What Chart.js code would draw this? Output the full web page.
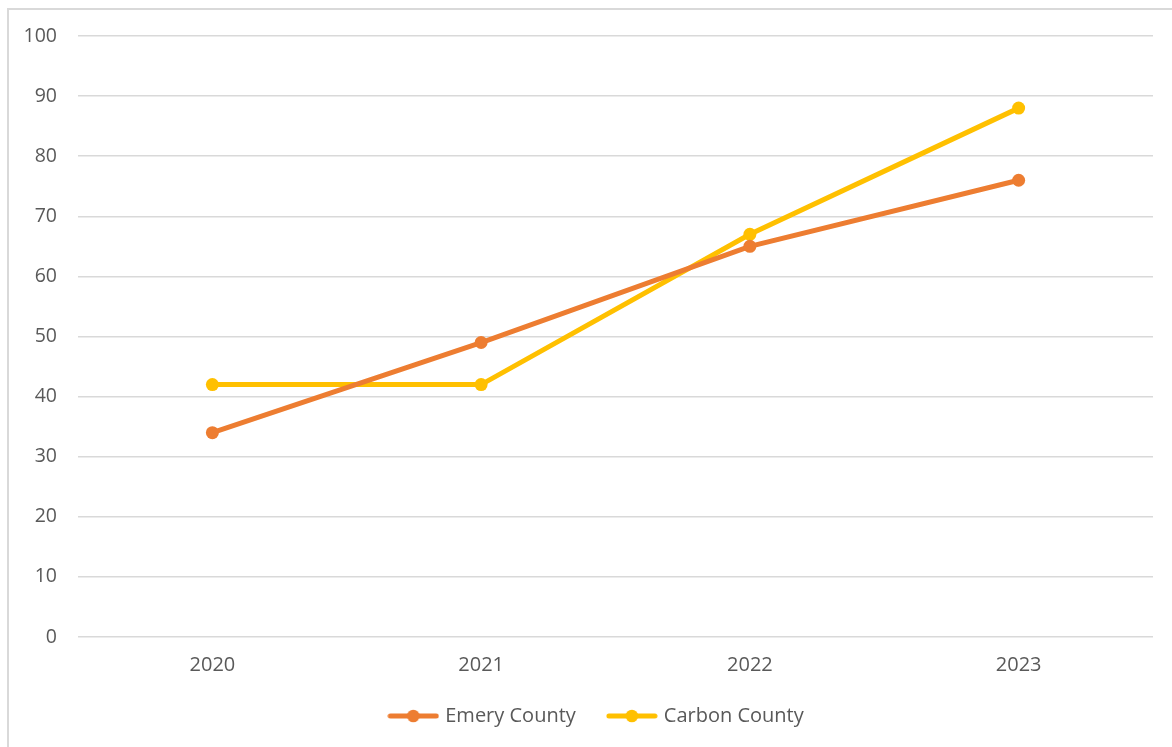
<!DOCTYPE html>
<html>
<head>
<meta charset="utf-8">
<script src="https://cdn.jsdelivr.net/npm/chart.js@4"></script>
<style>
  html, body { margin: 0; padding: 0; background: #ffffff; overflow: hidden; }
  #frame { position: absolute; left: 7px; top: 8px; width: 1300px; height: 900px;
           border-left: 2px solid #d9d9d9; border-top: 2px solid #d9d9d9; }
  #wrap { position: absolute; left: 0; top: 0; width: 1172px; height: 747px; }
</style>
</head>
<body>
<div id="frame"></div>
<div id="wrap"><canvas id="c" width="1172" height="747"></canvas></div>
<script>
const years = ['2020', '2021', '2022', '2023'];
const emeryCounty = [34, 49, 65, 76];
const carbonCounty = [42, 42, 67, 88];
const seriesNames = ['Emery County', 'Carbon County'];
const seriesColors = ['#ED7D31', '#FFC000'];
const yTicks = [0, 10, 20, 30, 40, 50, 60, 70, 80, 90, 100];

function legendIcon(color) {
  const cv = document.createElement('canvas');
  cv.width = 52; cv.height = 14;
  const g = cv.getContext('2d');
  g.strokeStyle = color; g.lineWidth = 5; g.lineCap = 'round';
  g.beginPath(); g.moveTo(3, 7); g.lineTo(49, 7); g.stroke();
  g.fillStyle = color;
  g.beginPath(); g.arc(26, 7, 6.3, 0, Math.PI * 2); g.fill();
  return cv;
}

const FONT = "'Open Sans', 'Liberation Sans', sans-serif";
const TEXT = '#595959';

const legendShift = {
  id: 'legendShift',
  afterLayout(chart) {
    if (chart.legend) { chart.legend.left += 21; chart.legend.right += 21; }
  }
};

new Chart(document.getElementById('c'), {
  type: 'line',
  data: {
    labels: years,
    datasets: [
      { label: seriesNames[0], data: emeryCounty, borderColor: seriesColors[0], backgroundColor: seriesColors[0],
        borderWidth: 5, pointRadius: 6.5, pointBorderWidth: 0, pointBackgroundColor: seriesColors[0], tension: 0 },
      { label: seriesNames[1], data: carbonCounty, borderColor: seriesColors[1], backgroundColor: seriesColors[1],
        borderWidth: 5, pointRadius: 6.5, pointBorderWidth: 0, pointBackgroundColor: seriesColors[1], tension: 0 }
    ]
  },
  plugins: [legendShift],
  options: {
    responsive: false,
    animation: false,
    events: [],
    layout: { padding: { left: 0, right: 19, top: 36, bottom: 11 } },
    plugins: {
      tooltip: { enabled: false },
      legend: {
        position: 'bottom',
        labels: {
          usePointStyle: true,
          pointStyleWidth: 44,
          padding: 34,
          color: TEXT,
          font: { family: FONT, size: 20 },
          generateLabels: (chart) => chart.data.datasets.map((ds, i) => ({
            text: ds.label, fontColor: TEXT, pointStyle: legendIcon(seriesColors[i]),
            datasetIndex: i, hidden: false, lineWidth: 0, strokeStyle: 'transparent', fillStyle: seriesColors[i]
          }))
        }
      }
    },
    scales: {
      x: {
        offset: true,
        grid: { display: false, drawTicks: false },
        border: { display: false },
        ticks: { color: TEXT, font: { family: FONT, size: 20 }, padding: 16, maxRotation: 0 },
        afterFit: (s) => { s.height = 35; }
      },
      y: {
        min: 0, max: 100,
        afterBuildTicks: (s) => { s.ticks = yTicks.map(v => ({ value: v })); },
        grid: { color: '#d9d9d9', lineWidth: 1.5, drawTicks: false },
        border: { display: false },
        ticks: { color: TEXT, font: { family: FONT, size: 19.5 }, padding: 21 },
        afterFit: (s) => { s.width = 78; }
      }
    }
  }
});
</script>
</body>
</html>
